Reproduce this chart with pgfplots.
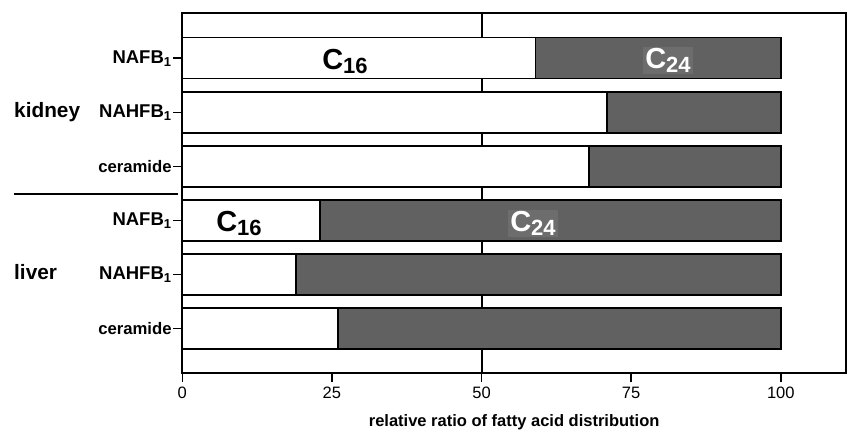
\documentclass[border=0pt]{standalone}
\usepackage{pgfplots}
\pgfplotsset{compat=1.18}
\usepackage{fontspec}
\setmainfont{Liberation Sans}
\definecolor{bargray}{HTML}{616161}
\definecolor{labgray}{HTML}{6D6D6D}
\newcommand{\csub}[1]{C\raisebox{-3.5pt}{\fontsize{22}{22}\selectfont #1}}

\begin{document}
\begin{tikzpicture}[x=1pt,y=1pt]
\path[use as bounding box] (-182.3,-57) rectangle (664.7,373);
\begin{axis}[
  at={(0,0)}, anchor=south west,
  scale only axis, width=663.7pt, height=359.7pt,
  xbar stacked, bar width=41pt,
  xmin=0, xmax=110.9, ymin=-0.83, ymax=5.82, y dir=reverse,
  xtick={0,25,50,75,100}, ytick={0,...,5},
  yticklabels={
    {\fontsize{18.5}{19}\selectfont NAFB\textsubscript{1}},
    {\fontsize{18.5}{19}\selectfont NAHFB\textsubscript{1}},
    {\fontsize{16.7}{19}\selectfont ceramide},
    {\fontsize{18.5}{19}\selectfont NAFB\textsubscript{1}},
    {\fontsize{18.5}{19}\selectfont NAHFB\textsubscript{1}},
    {\fontsize{16.7}{19}\selectfont ceramide}},
  yticklabel style={font=\bfseries, inner xsep=1.5pt},
  xticklabel style={font=\fontsize{16.5}{17}\selectfont, inner sep=5pt},
  /pgf/number format/assume math mode=true,
  tick align=outside, tick pos=left, major tick length=9pt,
  every tick/.style={black, line width=1.5pt},
  axis line style={line width=2pt},
  xlabel={relative ratio of fatty acid distribution},
  xlabel style={font=\bfseries\fontsize{16.5}{17}\selectfont, anchor=base,
    at={(rel axis cs:0.5,0)}, yshift=-53pt},
  clip=false,
]
\addplot[fill=white, draw=black, line width=1.6pt]
  coordinates {(59,0) (71,1) (68,2) (23,3) (19,4) (26,5)};
\addplot[fill=bargray, draw=black, line width=1.6pt]
  coordinates {(41,0) (29,1) (32,2) (77,3) (81,4) (74,5)};
\draw[line width=2pt] (axis cs:50,-0.83) -- (axis cs:50,5.82);
\end{axis}
% series labels inside the bars
\node[anchor=base, font=\bfseries\fontsize{29}{29}\selectfont]
  at (162.7,303) {\csub{16}};
\node[anchor=base, font=\bfseries\fontsize{29}{29}\selectfont]
  at (56.7,141) {\csub{16}};
\node[anchor=base, fill=labgray, text=white, inner xsep=2pt, inner ysep=2pt,
  font=\bfseries\fontsize{29}{29}\selectfont]
  at (485.7,304) {\csub{24}};
\node[anchor=base, fill=labgray, text=white, inner xsep=2pt, inner ysep=2pt,
  font=\bfseries\fontsize{29}{29}\selectfont]
  at (350.7,141) {\csub{24}};
% group labels
\node[anchor=base west, inner sep=0pt, font=\bfseries\fontsize{20.8}{21}\selectfont]
  at (-168.3,255) {kidney};
\node[anchor=base west, inner sep=0pt, font=\bfseries\fontsize{20.8}{21}\selectfont]
  at (-168.3,93) {liver};
\draw[line width=2pt] (-168.3,179) -- (-4.3,179);
\end{tikzpicture}
\end{document}
